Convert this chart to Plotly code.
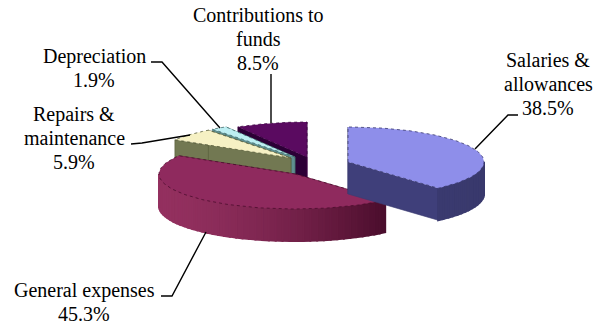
import numpy as np
import plotly.graph_objects as go

categories = ["Salaries & allowances", "General expenses", "Repairs & maintenance", "Depreciation", "Contributions to funds"]
shares = [38.5, 45.3, 5.9, 1.9, 8.5]
label_lines = [["Salaries &", "allowances", "38.5%"], ["General expenses", "45.3%"], ["Repairs &", "maintenance", "5.9%"],
               ["Depreciation", "1.9%"], ["Contributions to", "funds", "8.5%"]]

# Styling
top_colors = ["#8e8eea", "#8f2a5e", "#f6f1c4", "#bdeef2", "#5a0a60"]
side_light = ["#3f3f7a", "#93305f", "#727852", "#5f8f90", "#2c0036"]
side_dark = ["#39396c", "#4a0d2c", "#727852", "#5f8f90", "#2c0036"]
edge_colors = ["#3a3a70", "#4a0d2c", "#555a38", "#3f6a6a", "#3a0040"]
centers = [(348, 162), (295, 174), (291, 158), (295, 157), (307, 157)]
A, B, DEPTH = 136, 35, 32
label_xy = [(548, 84), (84, 302), (74, 138), (94, 68), (258, 39)]
LINE_GAP = 24
leaders = [[(518, 115), (508, 115), (475, 149)],
           [(161, 296), (172, 296), (206, 232)],
           [(131, 144), (142, 143), (190, 135)],
           [(151, 62), (162, 62), (220, 128)],
           [(271, 74), (271, 123)]]

fracs = np.array(shares) / sum(shares) * 2 * np.pi
ends = np.cumsum(fracs)
starts = ends - fracs

fig = go.Figure()


def poly(x, y, fill, line=None, width=1, dash="solid"):
    fig.add_trace(go.Scatter(x=list(x), y=list(y), mode="lines", fill="toself", fillcolor=fill,
                             line=dict(color=line or fill, width=width, dash=dash),
                             hoverinfo="skip", showlegend=False))


def mix(c1, c2, t):
    a = [int(c1[i:i + 2], 16) for i in (1, 3, 5)]
    b = [int(c2[i:i + 2], 16) for i in (1, 3, 5)]
    return "#%02x%02x%02x" % tuple(round(p + (q - p) * t) for p, q in zip(a, b))


for i in [4, 3, 2, 1, 0]:
    cx, cy = centers[i]
    s, e = starts[i], ends[i]
    px = lambda t: cx + A * np.sin(t)
    py = lambda t: cy - B * np.cos(t)
    # cut faces
    for t in (s, e):
        poly([cx, px(t), px(t), cx, cx], [cy, py(t), py(t) + DEPTH, cy + DEPTH, cy], side_light[i], edge_colors[i], 0.6)
    # outer wall, shaded from right to left
    lo, hi = max(s, np.pi / 2), min(e, 3 * np.pi / 2)
    if hi > lo:
        n = max(2, int((hi - lo) / 0.05))
        grid = np.linspace(lo, hi, n + 1)
        for a, b in zip(grid[:-1], grid[1:]):
            xm = px((a + b) / 2)
            t = np.clip((xm - (cx - A)) / (px(lo) - (cx - A) + 1e-6), 0, 1)
            col = mix(side_light[i], side_dark[i], t ** 1.6)
            poly([px(a), px(b), px(b), px(a), px(a)],
                 [py(a), py(b), py(b) + DEPTH, py(a) + DEPTH, py(a)], col, col, 2)
    # top face
    arc = np.linspace(s, e, 80)
    poly([cx, *px(arc), cx], [cy, *py(arc), cy], top_colors[i], edge_colors[i], 0.8, "dot")

for path in leaders:
    fig.add_trace(go.Scatter(x=[p[0] for p in path], y=[p[1] for p in path], mode="lines",
                             line=dict(color="#000000", width=1.4), hoverinfo="skip", showlegend=False))

for lines, (x, y) in zip(label_lines, label_xy):
    for k, text in enumerate(lines):
        fig.add_annotation(x=x, y=y + (k - (len(lines) - 1) / 2) * LINE_GAP, text=text, showarrow=False,
                           xanchor="center", yanchor="middle", bgcolor="rgba(0,0,0,0)",
                           font=dict(family="Liberation Serif", size=20, color="#000000"))

fig.update_layout(width=596, height=327, margin=dict(l=0, r=0, t=0, b=0),
                  paper_bgcolor="white", plot_bgcolor="white", showlegend=False,
                  xaxis=dict(range=[0, 596], visible=False, fixedrange=True),
                  yaxis=dict(range=[327, 0], visible=False, fixedrange=True))
fig.write_html("out.html", config={"displayModeBar": False},
               post_script="document.body.style.margin='0';document.documentElement.style.overflow='hidden';")
